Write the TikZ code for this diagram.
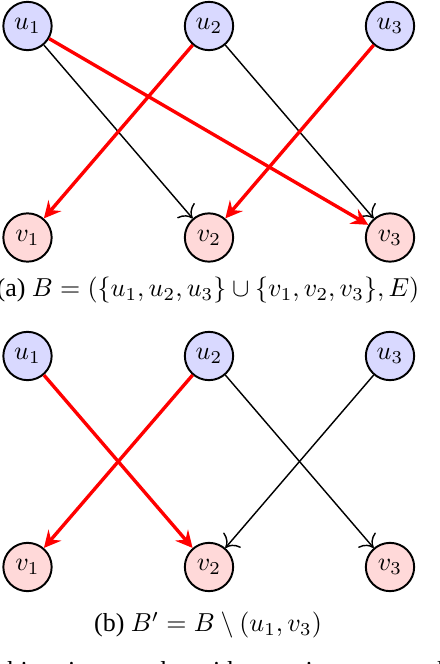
\documentclass[tikz,border=0pt]{standalone}
\usepackage[no-math]{fontspec}
\setmainfont{Liberation Serif}
\usetikzlibrary{arrows.meta}
\begin{document}
\begin{tikzpicture}[x=0.385pt,y=-0.385pt,
  unode/.style={circle,draw,line width=0.75pt,fill=blue!15,minimum size=18.6pt,inner sep=0pt},
  vnode/.style={circle,draw,line width=0.75pt,fill=red!15,minimum size=18.6pt,inner sep=0pt},
  plain/.style={-{To[scale=1.5]},line width=0.55pt,black},
  match/.style={-{Stealth[length=6.5pt,width=6.5pt,inset=2.3pt]},line width=1.3pt,red},
  captext/.style={inner sep=0pt}]
\useasboundingbox (0,0) rectangle (440,664);
\clip (0,0) rectangle (440,664);
% (a)
\node[unode] (a1) at (27.5,26) {$u_1$};
\node[unode] (a2) at (209,26) {$u_2$};
\node[unode] (a3) at (390,26) {$u_3$};
\node[vnode] (b1) at (27.5,237.5) {$v_1$};
\node[vnode] (b2) at (209,237.5) {$v_2$};
\node[vnode] (b3) at (390,237.5) {$v_3$};
\draw[plain] (a1) -- (b2);
\draw[plain] (a2) -- (b3);
\draw[match] (a1) -- (b3);
\draw[match] (a2) -- (b1);
\draw[match] (a3) -- (b2);
\node[captext] (capa) at (208,290) {(a) $B = (\{u_1, u_2, u_3\} \cup \{v_1, v_2, v_3\}, E)$};
% (b)
\node[unode] (c1) at (27.5,356) {$u_1$};
\node[unode] (c2) at (209,356) {$u_2$};
\node[unode] (c3) at (390,356) {$u_3$};
\node[vnode] (d1) at (27.5,567) {$v_1$};
\node[vnode] (d2) at (209,567) {$v_2$};
\node[vnode] (d3) at (390,567) {$v_3$};
\draw[plain] (c2) -- (d3);
\draw[plain] (c3) -- (d2);
\draw[match] (c1) -- (d2);
\draw[match] (c2) -- (d1);
\node[captext] (capb) at (208,625) {(b) $B' = B \setminus (u_1, v_3)$};
\node[captext,anchor=base west] (tail) at (7,679) {\spaceskip=0.79em bipartite graph with maximum matching};
\end{tikzpicture}
\end{document}
